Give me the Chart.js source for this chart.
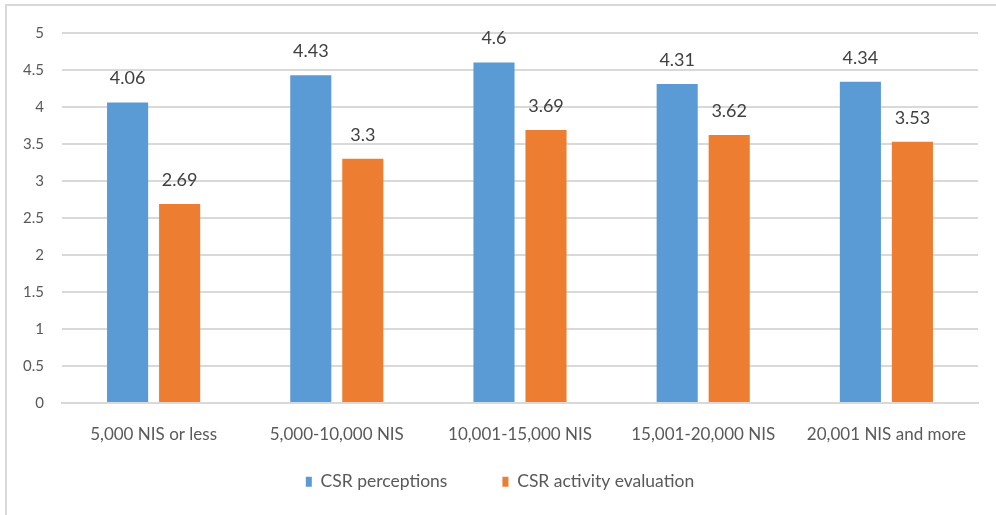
<!DOCTYPE html>
<html>
<head>
<meta charset="utf-8">
<script src="https://cdn.jsdelivr.net/npm/chart.js@4/dist/chart.umd.min.js"></script>
<style>
  html, body { margin: 0; padding: 0; background: #fff; }
  #wrap { position: relative; width: 996px; height: 515px; }
  #frame { position: absolute; left: 5px; top: 4px; right: -4px; bottom: -4px;
           border-left: 2px solid #d9d9d9; border-top: 2px solid #d9d9d9; pointer-events: none; }
  canvas { display: block; }
</style>
</head>
<body>
<div id="wrap">
  <canvas id="chart" width="996" height="515"></canvas>
  <div id="frame"></div>
</div>
<script>
// Income groups and mean scores
const categories = ['5,000 NIS or less', '5,000-10,000 NIS', '10,001-15,000 NIS', '15,001-20,000 NIS', '20,001 NIS and more'];
const perceptions = [4.06, 4.43, 4.6, 4.31, 4.34];
const activityEvaluation = [2.69, 3.3, 3.69, 3.62, 3.53];
const yTicks = [0, 0.5, 1, 1.5, 2, 2.5, 3, 3.5, 4, 4.5, 5];

const FONT = 'Lato, "Open Sans", sans-serif';

// Value labels above each bar
const valueLabels = {
  id: 'valueLabels',
  afterDatasetsDraw(chart) {
    const ctx = chart.ctx;
    ctx.save();
    ctx.font = '18px ' + FONT;
    ctx.fillStyle = '#404040';
    ctx.textAlign = 'center';
    ctx.textBaseline = 'middle';
    chart.data.datasets.forEach((ds, i) => {
      chart.getDatasetMeta(i).data.forEach((bar, j) => {
        ctx.fillText(String(ds.data[j]), bar.x, bar.y - 24);
      });
    });
    ctx.restore();
  }
};

// Place the legend row a little higher and to the right of its default slot
const legendShift = {
  id: 'legendShift',
  afterLayout(chart) {
    const lg = chart.legend;
    if (!lg) return;
    lg.left += 8; lg.right += 8;
    lg.top -= 35;
  }
};

new Chart(document.getElementById('chart'), {
  type: 'bar',
  data: {
    labels: categories,
    datasets: [
      { label: 'CSR perceptions', data: perceptions, backgroundColor: '#5b9bd5' },
      { label: 'CSR activity evaluation', data: activityEvaluation, backgroundColor: '#ed7d31' }
    ]
  },
  options: {
    responsive: false,
    animation: false,
    layout: { padding: { top: 33, left: 6, right: 18, bottom: 0 } },
    datasets: { bar: { categoryPercentage: 0.568, barPercentage: 0.79 } },
    scales: {
      x: {
        grid: { display: false, drawTicks: false },
        border: { color: '#d9d9d9', width: 2 },
        ticks: { color: '#595959', font: { family: FONT, size: 17 }, padding: 21, maxRotation: 0, autoSkip: false },
        afterFit(s) { s.height = 50; }
      },
      y: {
        min: 0, max: 5,
        afterBuildTicks(s) { s.ticks = yTicks.map(v => ({ value: v })); },
        grid: { color: '#d9d9d9', lineWidth: 2, drawTicks: false },
        border: { display: false },
        ticks: { color: '#595959', font: { family: FONT, size: 15 }, padding: 18, callback: v => String(v) },
        afterFit(s) { s.width = 56; }
      }
    },
    plugins: {
      legend: {
        position: 'bottom',
        maxHeight: 62,
        labels: {
          color: '#595959',
          font: { family: FONT, size: 17.5 },
          boxWidth: 6, boxHeight: 10, padding: 55,
          generateLabels(chart) {
            return chart.data.datasets.map((ds, i) => ({
              text: ds.label, fillStyle: ds.backgroundColor, strokeStyle: ds.backgroundColor,
              lineWidth: 0, fontColor: '#595959', datasetIndex: i, hidden: false
            }));
          }
        }
      },
      tooltip: { enabled: false }
    }
  },
  plugins: [valueLabels, legendShift]
});
</script>
</body>
</html>
